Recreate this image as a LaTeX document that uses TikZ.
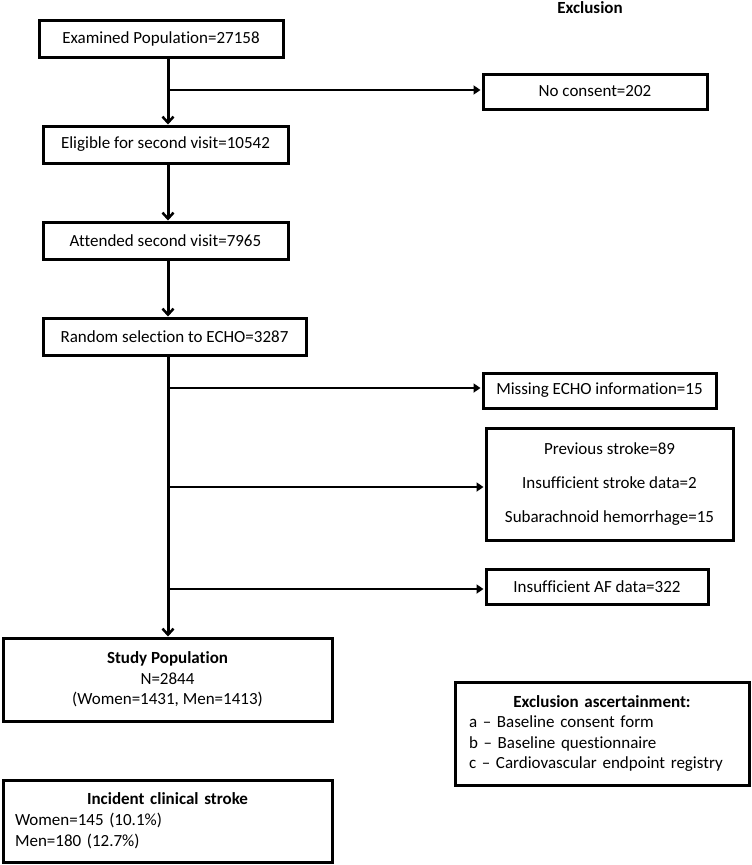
\documentclass[tikz,border=0pt]{standalone}
\usepackage{fontspec}
\setmainfont[Ligatures={NoCommon}]{Carlito}
\usetikzlibrary{arrows.meta}
\tikzset{
  box/.style={draw, line width=3pt, rectangle, inner sep=0pt, align=center, font=\fontsize{17}{20.5}\selectfont},
  conn/.style={line width=3pt},
  downarr/.style={conn, -{Straight Barb[length=6pt,width=11pt,line width=2.5pt]}},
  rightarr/.style={line width=2.5pt, -{Triangle[length=7pt,width=9pt]}, shorten >=1pt},
}
\begin{document}
\begin{tikzpicture}[x=1pt,y=-1pt]
\useasboundingbox (0,0) rectangle (752,865);
% header
\node[font=\fontsize{17}{20}\selectfont\bfseries] (hdr) at (590,8) {Exclusion};
% main column
\node[box, minimum width=244pt, minimum height=37pt] (b1) at (161,38.5) {Examined Population=27158};
\node[box, minimum width=245pt, minimum height=37pt] (b2) at (165.5,144.5) {Eligible for second visit=10542};
\node[box, minimum width=245pt, minimum height=37pt] (b3) at (165.5,240.5) {Attended second visit=7965};
\node[box, minimum width=263pt, minimum height=37pt] (b4) at (174.5,336.5) {Random selection to ECHO=3287};
\node[box, minimum width=329pt, minimum height=83pt] (sp) at (167.5,679.5) {\textbf{Study Population}\\N=2844\\(Women=1431, Men=1413)};
\node[box, minimum width=329pt, minimum height=82pt, align=left, text width=305pt, font=\fontsize{17}{21}\selectfont] (ic) at (167.5,821)
  {\makebox[\linewidth][c]{\textbf{Incident clinical stroke}}\\Women=145 (10.1\%)\\Men=180 (12.7\%)};
% exclusion column
\node[box, minimum width=224pt, minimum height=35pt] (nc) at (595,91.5) {No consent=202};
\node[box, minimum width=233pt, minimum height=35pt] (me) at (599.5,390.5) {Missing ECHO information=15};
\node[box, minimum width=247pt, minimum height=112pt, font=\fontsize{17}{34}\selectfont] (ps) at (609.5,484)
  {Previous stroke=89\\Insufficient stroke data=2\\Subarachnoid hemorrhage=15};
\node[box, minimum width=222pt, minimum height=35pt] (af) at (597,586.5) {Insufficient AF data=322};
\node[box, minimum width=294pt, minimum height=103pt, align=left, text width=266pt] (ea) at (602,733.5)
  {\makebox[\linewidth][c]{\textbf{Exclusion ascertainment:}}\\a -- Baseline consent form\\b -- Baseline questionnaire\\c -- Cardiovascular endpoint registry};
% connectors
\coordinate (j1) at (168,90);
\coordinate (j2) at (168,388);
\coordinate (j3) at (168,487);
\coordinate (j4) at (168,589);
\draw[downarr] (b1.south -| j1) -- (b2.north -| j1);
\draw[downarr] (b2.south -| j1) -- (b3.north -| j1);
\draw[downarr] (b3.south -| j1) -- (b4.north -| j1);
\draw[downarr] (b4.south -| j1) -- (sp.north -| j1);
\draw[rightarr] (j1) -- (nc.west |- j1);
\draw[rightarr] (j2) -- (me.west |- j2);
\draw[rightarr] (j3) -- (ps.west |- j3);
\draw[rightarr] (j4) -- (af.west |- j4);
\end{tikzpicture}
\end{document}
